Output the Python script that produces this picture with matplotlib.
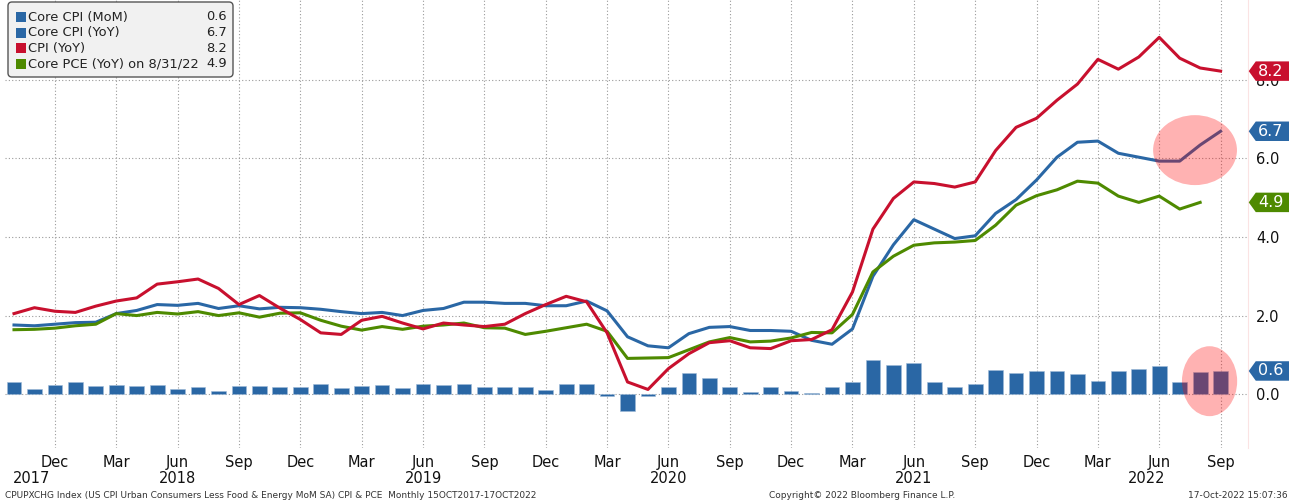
import numpy as np
import pandas as pd
import matplotlib
matplotlib.use('Agg')
import matplotlib.pyplot as plt
import matplotlib.transforms as mtrans
from matplotlib.patches import Ellipse, FancyBboxPatch, Rectangle
from matplotlib.path import Path

# monthly data, Oct 2017 - Sep 2022
months = pd.date_range('2017-10-01', '2022-09-01', freq='MS')
core_cpi_mom = [0.30, 0.13, 0.23, 0.30, 0.20, 0.23, 0.20, 0.23, 0.13, 0.17, 0.08, 0.20,
                0.20, 0.19, 0.19, 0.25, 0.15, 0.20, 0.23, 0.15, 0.25, 0.23, 0.27, 0.19,
                0.17, 0.19, 0.11, 0.27, 0.27, -0.05, -0.42, -0.05, 0.19, 0.55, 0.41, 0.19,
                0.06, 0.19, 0.07, 0.04, 0.17, 0.32, 0.87, 0.75, 0.80, 0.32, 0.19, 0.26,
                0.62, 0.53, 0.58, 0.59, 0.52, 0.34, 0.58, 0.64, 0.71, 0.32, 0.57, 0.59]
core_cpi_yoy = [1.76, 1.74, 1.78, 1.82, 1.83, 2.05, 2.13, 2.28, 2.26, 2.31, 2.18, 2.25,
                2.17, 2.21, 2.20, 2.16, 2.10, 2.05, 2.08, 2.00, 2.13, 2.18, 2.34, 2.34,
                2.31, 2.31, 2.25, 2.25, 2.37, 2.12, 1.46, 1.23, 1.18, 1.54, 1.70, 1.72,
                1.62, 1.62, 1.60, 1.37, 1.27, 1.66, 3.00, 3.80, 4.44, 4.20, 3.96, 4.03,
                4.60, 4.95, 5.45, 6.03, 6.41, 6.44, 6.13, 6.03, 5.93, 5.93, 6.34, 6.69]
cpi_yoy = [2.05, 2.20, 2.11, 2.08, 2.24, 2.37, 2.45, 2.80, 2.86, 2.93, 2.69, 2.28,
           2.51, 2.19, 1.90, 1.56, 1.52, 1.88, 1.98, 1.81, 1.66, 1.81, 1.76, 1.72,
           1.78, 2.05, 2.28, 2.49, 2.35, 1.56, 0.31, 0.12, 0.65, 1.03, 1.31, 1.36,
           1.18, 1.16, 1.36, 1.39, 1.64, 2.60, 4.20, 4.98, 5.40, 5.36, 5.27, 5.40,
           6.20, 6.79, 7.02, 7.48, 7.89, 8.52, 8.27, 8.58, 9.08, 8.55, 8.30, 8.22]
core_pce_yoy = [1.64, 1.65, 1.68, 1.74, 1.78, 2.05, 2.00, 2.08, 2.04, 2.10, 2.00, 2.07,
                1.96, 2.06, 2.07, 1.88, 1.73, 1.63, 1.72, 1.65, 1.73, 1.76, 1.81, 1.69,
                1.68, 1.52, 1.60, 1.69, 1.78, 1.60, 0.91, 0.92, 0.93, 1.13, 1.33, 1.44,
                1.33, 1.35, 1.43, 1.57, 1.56, 2.03, 3.11, 3.51, 3.79, 3.85, 3.87, 3.91,
                4.30, 4.81, 5.05, 5.20, 5.42, 5.37, 5.04, 4.88, 5.04, 4.71, 4.88]

legend_labels = ['Core CPI (MoM)', 'Core CPI (YoY)', 'CPI (YoY)', 'Core PCE (YoY) on 8/31/22']
last_labels = ['0.6', '6.7', '8.2', '4.9']
y_ticks = [0, 2, 4, 6, 8]

BLUE = '#2a67a5'
RED = '#c8102e'
GREEN = '#4e8a00'
colors = [BLUE, BLUE, RED, GREEN]
series = [core_cpi_mom, core_cpi_yoy, cpi_yoy, core_pce_yoy]

W, H = 1289, 504
fig = plt.figure(figsize=(W / 100, H / 100), dpi=100)
ax = fig.add_axes([5 / W, 56 / H, 1243 / W, 448 / H])
x = np.arange(len(months))

ax.bar(x, core_cpi_mom, width=0.72, color=BLUE, edgecolor='#9dbad8', linewidth=0.4, zorder=2)
ax.plot(x, core_cpi_yoy, color=BLUE, lw=2.2, zorder=3)
ax.plot(x[:len(core_pce_yoy)], core_pce_yoy, color=GREEN, lw=2.2, zorder=3)
ax.plot(x, cpi_yoy, color=RED, lw=2.2, zorder=3)

ax.set_xlim(-0.44, 60.34)
ax.set_ylim(-1.37, 10.03)

# quarterly ticks
q_idx = [i for i, m in enumerate(months) if m.month in (3, 6, 9, 12)]
ax.set_xticks(q_idx)
ax.set_xticklabels([months[i].strftime('%b') for i in q_idx])
ax.set_yticks(y_ticks)
ax.set_yticklabels([f'{v:.1f}' for v in y_ticks])
ax.yaxis.tick_right()
ax.tick_params(axis='x', length=0, labelsize=10.5, pad=5, colors='#111')
ax.tick_params(axis='y', length=0, labelsize=10.5, pad=6, colors='#111')
ax.grid(True, color='#9a9a9a', lw=0.8, ls=(0, (1, 2)), zorder=1)
ax.set_axisbelow(True)
for s in ['top', 'left', 'bottom']:
    ax.spines[s].set_visible(False)
ax.spines['right'].set_color('#fbe3e3')

# year labels
xtr = mtrans.blended_transform_factory(ax.transData, ax.transAxes)
years = sorted(set(m.year for m in months))
for yr in years:
    idx = [i for i, m in enumerate(months) if m.year == yr]
    if yr == years[0]:
        ax.text(idx[0] - 0.05, -0.067, str(yr), transform=xtr, ha='left', va='center', fontsize=10.5, color='#111')
    elif yr == years[-1]:
        ax.text(idx[0] + 4.4, -0.067, str(yr), transform=xtr, ha='center', va='center', fontsize=10.5, color='#111')
    else:
        ax.text(idx[5], -0.067, str(yr), transform=xtr, ha='center', va='center', fontsize=10.5, color='#111')


# value tags on the right axis
def tag_box(x0, y0, width, height, mutation_size):
    pad = mutation_size * 0.14
    x0 -= pad
    y0 -= pad
    width += 2 * pad + 20
    height += 2 * pad
    tip = height * 0.36
    verts = [(x0 - tip, y0 + height / 2), (x0, y0), (x0 + width, y0),
             (x0 + width, y0 + height), (x0, y0 + height), (x0 - tip, y0 + height / 2)]
    return Path(verts, [Path.MOVETO] + [Path.LINETO] * 4 + [Path.CLOSEPOLY])


ytr = mtrans.blended_transform_factory(ax.transAxes, ax.transData)
for lab, col, vals in zip(last_labels, colors, series):
    ax.text(1 + 10 / 1243, vals[-1], lab, transform=ytr, ha='left', va='center', fontsize=11.5,
            color='white', clip_on=False, zorder=6,
            bbox=dict(boxstyle=tag_box, fc=col, ec='none'))

# highlight ellipses
ax.add_patch(Ellipse((57.75, 6.21), 4.1, 1.78, fc=(1, 0, 0, 0.3), ec='none', zorder=5))
ax.add_patch(Ellipse((58.46, 0.33), 2.7, 1.78, fc=(1, 0, 0, 0.3), ec='none', zorder=5))

# legend box drawn in pixel coords
pix = mtrans.IdentityTransform()
box = FancyBboxPatch((8, H - 77), 225, 75, boxstyle='round,pad=0,rounding_size=4',
                     fc='#f1f1f1', ec='#555555', lw=1, transform=pix, zorder=5)
fig.add_artist(box)
for k, (lab, val, col) in enumerate(zip(legend_labels, last_labels, colors)):
    yc = H - (17 + k * 15.6)
    fig.add_artist(Rectangle((16, yc - 5), 10, 10, fc=col, ec='none', transform=pix, zorder=6))
    fig.text(28 / W, yc / H, lab, ha='left', va='center', fontsize=9.4, color='#222', zorder=6)
    fig.text(227 / W, yc / H, val, ha='right', va='center', fontsize=9.4, color='#222', zorder=6)

# footer
fig.text(5 / W, 1 - 495 / H, 'CPUPXCHG Index (US CPI Urban Consumers Less Food & Energy MoM SA) CPI & PCE  Monthly 15OCT2017-17OCT2022',
         ha='left', va='center', fontsize=6.5, color='#333')
fig.text(862 / W, 1 - 495 / H, 'Copyright\u00a9 2022 Bloomberg Finance L.P.', ha='center', va='center', fontsize=6.5, color='#333')
fig.text(1288 / W, 1 - 495 / H, '17-Oct-2022 15:07:36', ha='right', va='center', fontsize=6.5, color='#333')

fig.savefig('out.png', dpi=100)
